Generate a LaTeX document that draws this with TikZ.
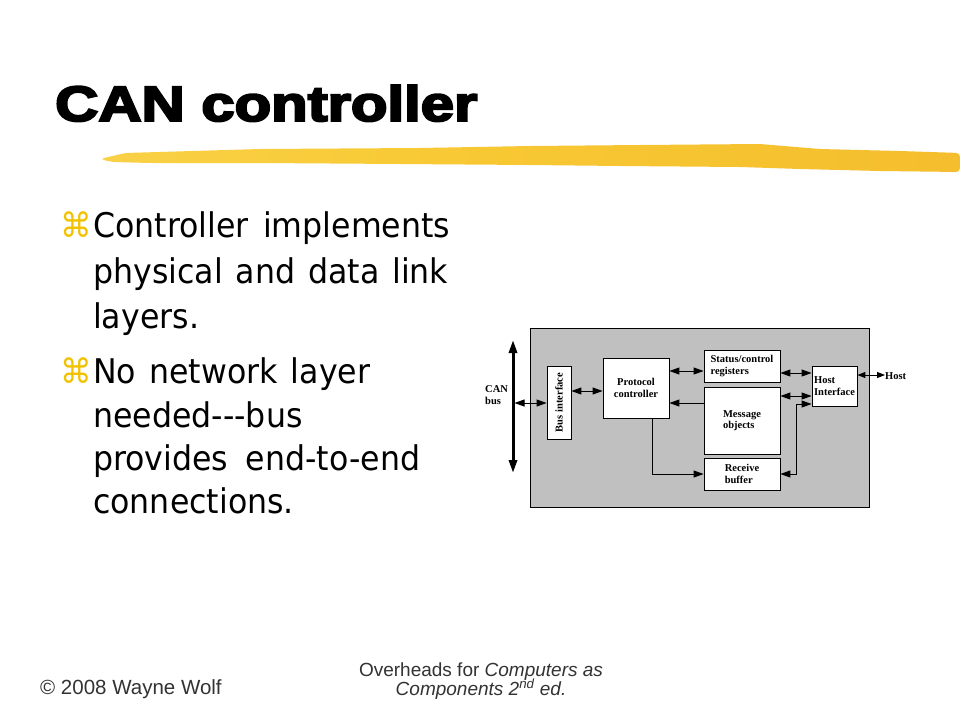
\documentclass[tikz,border=0pt]{standalone}
\usepackage{fontspec}
\usepackage{graphicx}
\usetikzlibrary{arrows.meta,calc}
\newfontfamily\bodyfont{DejaVu Sans}[FakeStretch=0.93]
\newfontfamily\titlefont{Liberation Sans}[BoldFeatures={FakeBold=4}]
\newfontfamily\footfont{Liberation Sans}
\newfontfamily\figfont{Liberation Serif}
\definecolor{panelgray}{HTML}{C0C0C0}
\definecolor{bulletgold}{HTML}{F2C200}
\definecolor{footgray}{HTML}{333333}
\definecolor{brA}{HTML}{FADA5E}
\definecolor{brB}{HTML}{F8C934}
\definecolor{brC}{HTML}{F2B428}
\pgfdeclarehorizontalshading{brush}{100bp}{color(0bp)=(brA); color(45bp)=(brB); color(100bp)=(brC)}
\tikzset{
  body/.style={font=\bodyfont\fontsize{34}{40}\selectfont, anchor=base west, inner sep=0pt},
  bul/.style={font=\bodyfont\fontsize{34}{40}\selectfont, text=bulletgold, anchor=base west, inner sep=0pt},
  foot/.style={font=\footfont\fontsize{19}{22}\selectfont, text=footgray, inner sep=0pt},
  blk/.style={draw, fill=white, line width=0.8pt, inner sep=0pt, align=center,
    font=\figfont\bfseries\fontsize{10.5}{11.5}\selectfont},
  lbl/.style={inner sep=0pt, align=left, font=\figfont\bfseries\fontsize{10.5}{11.5}\selectfont},
  conn/.style={line width=0.9pt},
  bi/.style={conn, {Triangle[length=10pt,width=7pt]}-{Triangle[length=10pt,width=7pt]}},
  uni/.style={conn, -{Triangle[length=10pt,width=7pt]}},
  busline/.style={line width=3pt, {Triangle[length=13pt,width=8pt]}-{Triangle[length=13pt,width=8pt]}},
  smallbi/.style={conn, {Triangle[length=8pt,width=6pt]}-{Triangle[length=8pt,width=6pt]}}
}
\begin{document}
\begin{tikzpicture}[x=1pt,y=-1pt]
\useasboundingbox (0,0) rectangle (960,720);
\fill[white] (0,0) rectangle (960,720);

% title
\node[anchor=base west, inner sep=0pt] (title) at (55,121)
  {\resizebox{422pt}{36pt}{\titlefont\bfseries CAN controller}};

% brush stroke
\shade[shading=brush, rounded corners=4pt]
  (100,159) -- (125,153) -- (260,149) -- (420,148) -- (530,146) -- (640,145)
  -- (760,144) -- (820,149) -- (900,151) -- (960,153) -- (960,172)
  -- (880,171) -- (800,169) -- (740,167) -- (620,166) -- (530,165)
  -- (400,164) -- (260,163) -- (150,163) -- (112,162) -- cycle;

% bullets and body text
\node[bul] (b1) at (60,237) {⌘};
\node[body] (t11) at (93,237) {\makebox[357pt][s]{Controller implements}};
\node[body] (t12) at (93,283) {\makebox[355pt][s]{physical and data link}};
\node[body] (t13) at (93,328) {layers.};
\node[bul] (b2) at (60,383) {⌘};
\node[body] (t21) at (93,383) {\makebox[277pt][s]{No network layer}};
\node[body] (t22) at (93,427) {needed-\kern0pt-\kern0pt-bus};
\node[body] (t23) at (93,470) {\makebox[327pt][s]{provides end-to-end}};
\node[body] (t24) at (93,513) {connections.};

% footer
\node[foot, anchor=base west, font=\footfont\fontsize{20.5}{22}\selectfont] (f1) at (40,694) {© 2008 Wayne Wolf};
\node[foot, anchor=base] (f2) at (481,676) {Overheads for \textit{Computers as}};
\node[foot, anchor=base] (f3) at (481,695) {\textit{Components 2\textsuperscript{nd} ed.}};

% diagram panel
\node[draw, fill=panelgray, line width=0.8pt, anchor=north west, inner sep=0pt,
  minimum width=339, minimum height=179] (panel) at (530,328) {};

% blocks
\node[blk, minimum width=24, minimum height=73] (bif) at (559,402.5)
  {\rotatebox{90}{Bus interface}};
\node[blk, minimum width=66, minimum height=60] (pc) at (636,388)
  {Protocol\\controller};
\node[blk, minimum width=76, minimum height=32, align=left] (sr) at (742,366)
  {Status/control\\registers};
\node[blk, minimum width=76, minimum height=67, align=left] (mo) at (742,420.5)
  {Message\\objects};
\node[blk, minimum width=76, minimum height=32, align=left] (rb) at (742,474)
  {Receive\\buffer};
\node[blk, minimum width=45, minimum height=40, align=left] (hi) at (834.5,386)
  {Host\\Interface};

% labels
\node[lbl, anchor=west] (can) at (485,395) {CAN\\bus};
\node[lbl, anchor=west] (host) at (885,376) {Host};

% coordinates
\coordinate (bustop) at (513,340);
\coordinate (busbot) at (513,473);
\coordinate (yA) at (0,403);
\coordinate (yB) at (0,391);
\coordinate (yC) at (0,371);
\coordinate (yD) at (0,403);
\coordinate (yE) at (0,373);
\coordinate (yF) at (0,396);
\coordinate (yH) at (0,375);
\coordinate (xP) at (652,0);
\coordinate (rbk) at (796,404);

% connectors
\draw[busline] (bustop) -- (busbot);
\draw[bi] ([xshift=1.5pt]bustop |- yA) -- (bif.west |- yA);
\draw[bi] (bif.east |- yB) -- (pc.west |- yB);
\draw[bi] (pc.east |- yC) -- (sr.west |- yC);
\draw[uni] (mo.west |- yD) -- (pc.east |- yD);
\draw[uni] (pc.south -| xP) |- (rb.west);
\draw[bi] (sr.east |- yE) -- (hi.west |- yE);
\draw[bi] (mo.east |- yF) -- (hi.west |- yF);
\draw[bi] (rb.east) -| (rbk) -- (hi.west |- rbk);
\draw[smallbi] (hi.east |- yH) -- (host.west |- yH);
\end{tikzpicture}
\end{document}
